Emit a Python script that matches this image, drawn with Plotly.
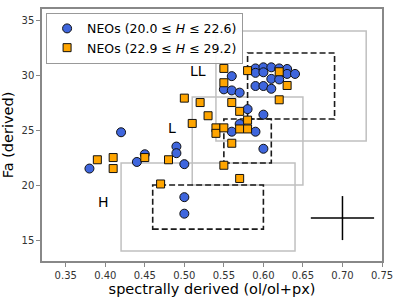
import plotly.graph_objects as go

# Blue circles: NEOs (20.0 <= H <= 22.6)
blue_x = [0.38, 0.42, 0.44, 0.45, 0.49, 0.49, 0.50, 0.50, 0.50,
          0.56, 0.57, 0.59, 0.60, 0.60,
          0.55, 0.56, 0.56, 0.57, 0.59, 0.59, 0.59, 0.60, 0.60, 0.60,
          0.61, 0.61, 0.61, 0.62, 0.62, 0.63, 0.63, 0.64, 0.58]
blue_y = [21.5, 24.8, 22.1, 22.8, 23.5, 22.9, 21.9, 18.9, 17.4,
          24.85, 25.55, 24.85, 23.3, 26.4,
          28.7, 29.9, 28.6, 28.4, 30.6, 30.2, 29.0, 30.7, 30.25, 29.0,
          30.7, 29.65, 28.75, 30.6, 29.6, 30.55, 30.1, 30.1, 26.9]

# Orange squares: NEOs (22.9 <= H <= 29.2)
orange_x = [0.39, 0.41, 0.41, 0.45, 0.47, 0.48, 0.50, 0.51, 0.52, 0.53,
            0.54, 0.54, 0.55, 0.56, 0.56, 0.57, 0.57, 0.57, 0.58, 0.58,
            0.55, 0.55, 0.58, 0.62, 0.63, 0.62, 0.55]
orange_y = [22.3, 22.5, 21.5, 22.5, 20.1, 22.3, 27.9, 25.6, 27.5, 26.3,
            25.2, 24.7, 21.8, 27.5, 23.8, 26.7, 25.1, 20.6, 25.9, 25.1,
            30.6, 29.3, 30.4, 30.3, 29.05, 27.75, 25.2]

# Spectrally derived ranges (gray solid boxes): name, x0, x1, y0, y1
spec_boxes = [("LL", 0.54, 0.73, 24, 34), ("L", 0.51, 0.65, 20, 28), ("H", 0.42, 0.64, 14, 22)]
# Meteorite ranges (dashed boxes)
met_boxes = [("LL", 0.58, 0.69, 26, 32), ("L", 0.55, 0.61, 22, 26), ("H", 0.46, 0.60, 16, 20)]
# Box labels
label_text = ["LL", "L", "H"]
label_x = [0.5175, 0.485, 0.3975]
label_y = [30.4, 25.2, 18.5]

# Typical uncertainty cross
err_x, err_y = [0.70], [17.0]
err_dx, err_dy = [0.04], [2.0]

xticks = [0.35, 0.40, 0.45, 0.50, 0.55, 0.60, 0.65, 0.70, 0.75]
yticks = [15, 20, 25, 30, 35]

fig = go.Figure()

for name, x0, x1, y0, y1 in spec_boxes:
    fig.add_shape(type="rect", x0=x0, x1=x1, y0=y0, y1=y1, xref="x", yref="y",
                  line=dict(color="#c0c0c0", width=1.5), layer="below")
for name, x0, x1, y0, y1 in met_boxes:
    fig.add_shape(type="rect", x0=x0, x1=x1, y0=y0, y1=y1, xref="x", yref="y",
                  line=dict(color="#1a1a1a", width=1.6, dash="6px,3px"), layer="below")

fig.add_trace(go.Scatter(x=err_x, y=err_y, mode="markers",
                         marker=dict(size=1, color="rgba(0,0,0,0)"),
                         error_x=dict(type="data", array=err_dx, width=0, thickness=1.5, color="black"),
                         error_y=dict(type="data", array=err_dy, width=0, thickness=1.5, color="black"),
                         showlegend=False, hoverinfo="skip"))

fig.add_trace(go.Scatter(x=blue_x, y=blue_y, mode="markers",
                         name="NEOs (20.0 ≤ <i>H</i> ≤ 22.6)",
                         marker=dict(symbol="circle", size=9, color="#3f66dd",
                                     line=dict(color="#111111", width=1))))
fig.add_trace(go.Scatter(x=orange_x, y=orange_y, mode="markers",
                         name="NEOs (22.9 ≤ <i>H</i> ≤ 29.2)",
                         marker=dict(symbol="square", size=8, color="#ffa500",
                                     line=dict(color="#111111", width=1))))

for t, lx, ly in zip(label_text, label_x, label_y):
    fig.add_annotation(x=lx, y=ly, text=t, showarrow=False, xref="x", yref="y",
                       font=dict(size=14, color="black"))

fig.update_layout(
    width=400, height=301,
    margin=dict(l=41, r=14, t=7, b=38),
    paper_bgcolor="white", plot_bgcolor="white",
    font=dict(family="DejaVu Sans", color="#222222"),
    legend=dict(x=0.012, y=0.985, xanchor="left", yanchor="top",
                bordercolor="#999999", borderwidth=1, bgcolor="rgba(255,255,255,0.9)",
                font=dict(size=12.5, color="black"), itemwidth=30,
                tracegroupgap=0),
    xaxis=dict(range=[0.32, 0.75], tickvals=xticks, ticktext=[f"{v:.2f}" for v in xticks],
               showgrid=False, zeroline=False, showline=True, linecolor="#888888", linewidth=1.5,
               mirror=True, ticks="outside", ticklen=4, tickcolor="#888888",
               tickfont=dict(size=10, color="#333333"),
               title=dict(text="spectrally derived (ol/ol+px)", font=dict(size=14.5, color="black"), standoff=3)),
    yaxis=dict(range=[13.1, 36.0], tickvals=yticks,
               showgrid=False, zeroline=False, showline=True, linecolor="#888888", linewidth=1.5,
               mirror=True, ticks="outside", ticklen=4, tickcolor="#888888",
               tickfont=dict(size=10, color="#333333"),
               title=dict(text="Fa (derived)", font=dict(size=14.5, color="black"), standoff=4)),
)

fig.write_html("out.html")
